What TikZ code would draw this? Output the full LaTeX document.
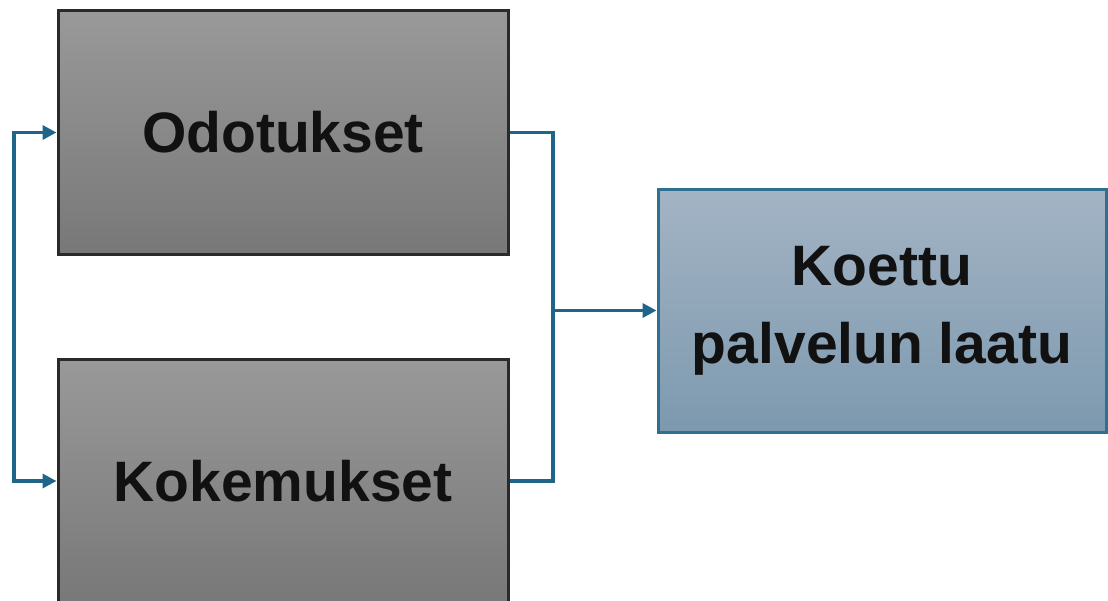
\documentclass[tikz,border=0pt]{standalone}
\usepackage{fontspec}
\setmainfont{Liberation Sans}
\usetikzlibrary{arrows.meta}
\definecolor{conn}{HTML}{1F6489}
\definecolor{grayedge}{HTML}{2A2A2A}
\definecolor{blueedge}{HTML}{2F6F90}
\definecolor{txt}{HTML}{111111}
\tikzset{
  graybox/.style={draw=grayedge, line width=3pt, top color=black!40, bottom color=black!53,
    minimum width=450pt, minimum height=244pt, inner sep=0pt, text=txt,
    font=\fontsize{57}{78}\selectfont\bfseries, align=center},
  bluebox/.style={draw=blueedge, line width=3pt, top color={rgb,255:red,163;green,180;blue,196}, bottom color={rgb,255:red,125;green,153;blue,175},
    minimum width=448pt, minimum height=243pt, inner sep=0pt, text=txt,
    font=\fontsize{57}{78}\selectfont\bfseries, align=center},
  connector/.style={draw=conn, line width=3.4pt},
  tipend/.style={-{Triangle[length=14pt,width=14pt]}},
  tipboth/.style={{Triangle[length=14pt,width=14pt]}-{Triangle[length=14pt,width=14pt]}}
}
\begin{document}
\begin{tikzpicture}[x=1pt,y=-1pt]
\useasboundingbox (0,0) rectangle (1108,600);
\begin{scope}
\clip (0,0) rectangle (1108,600);
\node[graybox] (A) at (283,132.5) {Odotukset};
\node[graybox] (B) at (283,481) {Kokemukset};
\node[bluebox] (C) at (882,310.5) {\raisebox{0pt}{Koettu}\\palvelun laatu};
\coordinate (jr) at (553,310.5);
\coordinate (jl) at (14,310.5);
\draw[connector] (A.east) -| (jr) |- (B.east);
\draw[connector,tipend] (jr) -- (C.west);
\draw[connector,tipboth] (A.west) -| (jl) |- (B.west);
\end{scope}
\end{tikzpicture}
\end{document}
